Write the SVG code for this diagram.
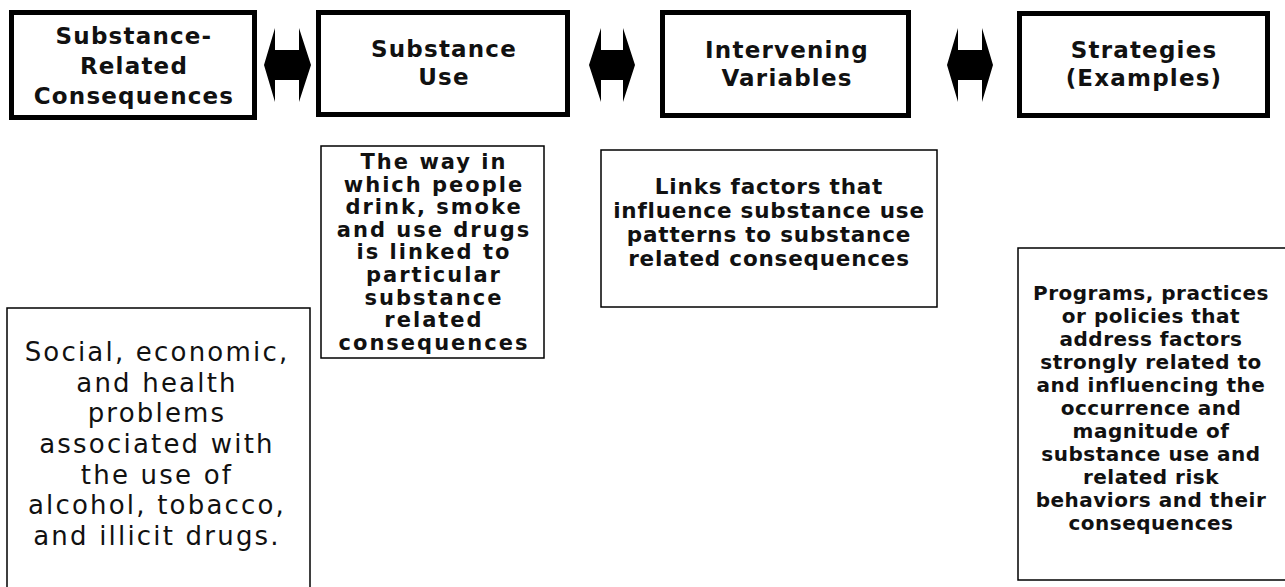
<svg xmlns="http://www.w3.org/2000/svg" width="1285" height="587" viewBox="0 0 1285 587">
<style>
.hbox{fill:#fff;stroke:#000;stroke-width:5}
.dbox{fill:#fff;stroke:#000;stroke-width:1.5}
.arrow{fill:#000;stroke:none}
.ht{font-family:"DejaVu Sans",Verdana,sans-serif;font-weight:bold;font-size:23px;letter-spacing:1.2px;fill:#111;text-anchor:middle}
.bt{font-family:"DejaVu Sans",Verdana,sans-serif;font-weight:bold;font-size:21px;letter-spacing:2px;fill:#111;text-anchor:middle}
.ct{font-family:"DejaVu Sans",Verdana,sans-serif;font-weight:bold;font-size:21.5px;letter-spacing:0.8px;fill:#111;text-anchor:middle}
.st{font-family:"DejaVu Sans",Verdana,sans-serif;font-weight:bold;font-size:20px;letter-spacing:0.5px;fill:#111;text-anchor:middle}
.rt{font-family:"DejaVu Sans",Verdana,sans-serif;font-size:26px;letter-spacing:2.2px;fill:#111;text-anchor:middle}
</style>
<rect width="1285" height="587" fill="#fff"/>
<g id="connectors">
<polygon class="arrow" points="264,65 275,28 275,50 299,50 299,28 311,65 299,102 299,80 275,80 275,102"/>
<polygon class="arrow" points="589,65 601,28 601,50 623,50 623,28 635,65 623,102 623,80 601,80 601,102"/>
<polygon class="arrow" points="947,65 958,28 958,50 982,50 982,28 993,65 982,102 982,80 958,80 958,102"/>
</g>
<g id="consequences">
<rect class="hbox" x="11.5" y="12.5" width="243" height="105"/>
<text class="ht"><tspan x="134" y="44">Substance-</tspan><tspan x="134" y="74">Related</tspan><tspan x="134" y="104">Consequences</tspan></text>
</g>
<g id="substance-use">
<rect class="hbox" x="318.5" y="12.5" width="249" height="102"/>
<text class="ht"><tspan x="444" y="57">Substance</tspan><tspan x="444" y="85">Use</tspan></text>
</g>
<g id="intervening-variables">
<rect class="hbox" x="662.5" y="12.5" width="246" height="103"/>
<text class="ht"><tspan x="787" y="58">Intervening</tspan><tspan x="787" y="86">Variables</tspan></text>
</g>
<g id="strategies">
<rect class="hbox" x="1019.5" y="13.5" width="248" height="102"/>
<text class="ht"><tspan x="1144" y="58">Strategies</tspan><tspan x="1144" y="86">(Examples)</tspan></text>
</g>
<g id="consequences-desc">
<rect class="dbox" x="7" y="308" width="303" height="300"/>
<text class="rt"><tspan x="157" y="361">Social, economic,</tspan><tspan x="157" y="392">and health</tspan><tspan x="157" y="422">problems</tspan><tspan x="157" y="453">associated with</tspan><tspan x="157" y="484">the use of</tspan><tspan x="157" y="514">alcohol, tobacco,</tspan><tspan x="157" y="545">and illicit drugs.</tspan></text>
</g>
<g id="substance-use-desc">
<rect class="dbox" x="321" y="146" width="223" height="212"/>
<text class="bt"><tspan x="434" y="169">The way in</tspan><tspan x="434" y="191.6">which people</tspan><tspan x="434" y="214.2">drink, smoke</tspan><tspan x="434" y="236.8">and use drugs</tspan><tspan x="434" y="259.4">is linked to</tspan><tspan x="434" y="282">particular</tspan><tspan x="434" y="304.6">substance</tspan><tspan x="434" y="327.2">related</tspan><tspan x="434" y="349.8">consequences</tspan></text>
</g>
<g id="intervening-desc">
<rect class="dbox" x="601" y="150" width="336" height="157"/>
<text class="ct"><tspan x="769" y="194">Links factors that</tspan><tspan x="769" y="218">influence substance use</tspan><tspan x="769" y="242">patterns to substance</tspan><tspan x="769" y="266">related consequences</tspan></text>
</g>
<g id="strategies-desc">
<rect class="dbox" x="1018" y="248" width="280" height="332"/>
<text class="st"><tspan x="1151" y="300">Programs, practices</tspan><tspan x="1151" y="323">or policies that</tspan><tspan x="1151" y="346">address factors</tspan><tspan x="1151" y="369">strongly related to</tspan><tspan x="1151" y="392">and influencing the</tspan><tspan x="1151" y="415">occurrence and</tspan><tspan x="1151" y="438">magnitude of</tspan><tspan x="1151" y="461">substance use and</tspan><tspan x="1151" y="484">related risk</tspan><tspan x="1151" y="507">behaviors and their</tspan><tspan x="1151" y="530">consequences</tspan></text>
</g>
</svg>
